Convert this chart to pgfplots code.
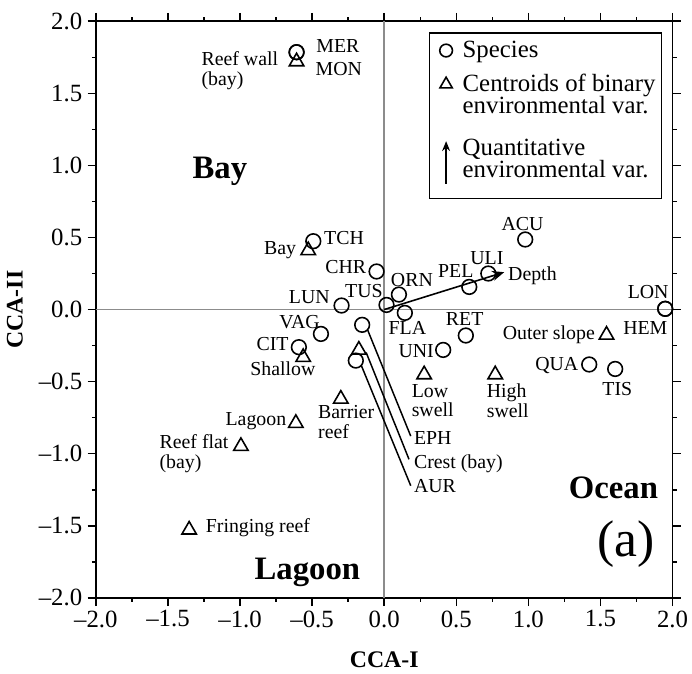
\documentclass[border=0pt]{standalone}
\usepackage{fontspec}
\setmainfont{Liberation Serif}
\usepackage{pgfplots}
\pgfplotsset{compat=1.18}
\usetikzlibrary{arrows.meta}
\definecolor{zerogray}{HTML}{8C8C8C}
\begin{document}
\begin{tikzpicture}[lab/.style={font={\fontsize{10}{10}\selectfont\lineskiplimit=-20pt}, inner sep=0pt, outer sep=0pt, align=left},
  big/.style={font=\fontsize{16.5}{19}\selectfont\bfseries, inner sep=0pt}]
\begin{axis}[
  width=290.8pt, height=290.8pt, scale only axis,
  xmin=-2, xmax=2, ymin=-2, ymax=2,
  xtick={-2,-1.5,-1,-0.5,0,0.5,1,1.5,2},
  ytick={-2,-1.5,-1,-0.5,0,0.5,1,1.5,2},
  xticklabels={--2.0,--1.5,--1.0,--0.5,0.0,0.5,1.0,1.5,2.0},
  yticklabels={--2.0,--1.5,--1.0,--0.5,0.0,0.5,1.0,1.5,2.0},
  minor tick num=1,
  tick align=outside,
  major tick length=4.2pt, minor tick length=2pt,
  tick style={line width=0.75pt, black},
  axis line style={line width=0.8pt},
  every tick label/.append style={font=\fontsize{12.5}{14}\selectfont},
  xticklabel style={inner sep=2pt},
  yticklabel style={inner sep=2.5pt},
  xlabel={CCA-I}, ylabel={CCA-II},
  label style={font=\fontsize{12}{14}\selectfont\bfseries},
  xlabel style={at={(rel axis cs:0.5,0)}, anchor=center, yshift=-31pt},
  ylabel style={at={(rel axis cs:0,0.5)}, anchor=center, yshift=40.9pt},
  clip=false,
  legend cell align=left,
  legend style={at={(axis description cs:0.982,0.981)}, anchor=north east, draw=black, line width=0.75pt,
    font={\fontsize{12.5}{11}\selectfont\lineskiplimit=-20pt}, cells={align=left}, row sep=3pt,
    inner xsep=1pt, inner ysep=2pt},
]
\draw[zerogray, line width=0.8pt] (axis cs:0,-2) -- (axis cs:0,2);
\draw[zerogray, line width=0.8pt] (axis cs:-2,0) -- (axis cs:2,0);

% legend keys
\addlegendimage{legend image code/.code={\path (0pt,0pt) (13pt,0pt); \draw[line width=0.8pt] plot[mark=o, mark size=3.2pt] coordinates {(7pt,0pt)};}}
\addlegendentry{Species}
\addlegendimage{legend image code/.code={\path (0pt,0pt) (13pt,0pt); \draw[line width=0.8pt] plot[mark=triangle, mark size=3.6pt] coordinates {(7pt,5.5pt)};}}
\addlegendentry{Centroids of binary\\environmental var.}
\addlegendimage{legend image code/.code={\draw[draw=none] (7pt,17pt) -- (7pt,-17.5pt); \draw[line width=0.75pt,-{Stealth[length=5pt,width=4pt]}] (7pt,-12pt) -- (7pt,9.5pt);}}
\addlegendentry{Quantitative\\environmental var.}

% species
\addplot[forget plot, only marks, mark=o, mark size=3.7pt, black, mark options={line width=0.8pt}] coordinates {
(-0.608,1.785) (-0.608,1.785) (-0.492,0.474) (-0.053,0.264) (0.102,0.104)
(0.016,0.032) (-0.296,0.028) (0.143,-0.023) (0.722,0.250) (0.590,0.157)
(0.978,0.486) (1.949,0.005) (1.949,0.005) (0.566,-0.180) (0.409,-0.280)
(1.422,-0.381) (1.602,-0.412) (-0.439,-0.169) (-0.592,-0.261) (-0.153,-0.106)
(-0.197,-0.354)};
% centroids
\addplot[forget plot, only marks, mark=triangle, mark size=4.2pt, black, mark options={line width=0.8pt}] coordinates {
(-0.608,1.720) (-0.527,0.410) (1.542,-0.176) (0.277,-0.451) (0.770,-0.451)
(-0.562,-0.331) (-0.176,-0.280) (-0.301,-0.620) (-0.613,-0.788) (-0.994,-0.948)
(-1.353,-1.528)};

% depth vector
\draw[line width=0.8pt, -{Stealth[length=6pt,width=5pt]}] (axis cs:0,0) -- (axis cs:0.832,0.259);

% leader lines
\draw[line width=0.75pt] (axis cs:-0.114,-0.144) -- (axis cs:0.184,-0.878);
\draw[line width=0.75pt] (axis cs:-0.125,-0.298) -- (axis cs:0.172,-1.039);
\draw[line width=0.75pt] (axis cs:-0.160,-0.385) -- (axis cs:0.184,-1.222);

% species labels
\node[lab, anchor=west] at (axis cs:-0.470,1.829) {MER};
\node[lab, anchor=west] at (axis cs:-0.475,1.668) {MON};
\node[lab, anchor=west] at (axis cs:-0.416,0.499) {TCH};
\node[lab, anchor=east] at (axis cs:-0.125,0.292) {CHR};
\node[lab, anchor=west] at (axis cs:0.047,0.207) {ORN};
\node[lab, anchor=east] at (axis cs:-0.011,0.131) {TUS};
\node[lab, anchor=east] at (axis cs:-0.378,0.086) {LUN};
\node[lab, anchor=west] at (axis cs:0.031,-0.128) {FLA};
\node[lab] at (axis cs:0.712,0.354) {ULI};
\node[lab, anchor=east] at (axis cs:0.619,0.269) {PEL};
\node[lab] at (axis cs:0.959,0.590) {ACU};
\node[lab, anchor=east] at (axis cs:1.972,0.124) {LON};
\node[lab, anchor=west] at (axis cs:1.658,-0.128) {HEM};
\node[lab] at (axis cs:0.558,-0.068) {RET};
\node[lab, anchor=east] at (axis cs:0.344,-0.289) {UNI};
\node[lab, anchor=east] at (axis cs:1.346,-0.385) {QUA};
\node[lab] at (axis cs:1.617,-0.550) {TIS};
\node[lab, anchor=east] at (axis cs:-0.447,-0.086) {VAG};
\node[lab, anchor=east] at (axis cs:-0.664,-0.236) {CIT};
\node[lab, anchor=west] at (axis cs:0.207,-0.889) {EPH};
\node[lab, anchor=west] at (axis cs:0.207,-1.222) {AUR};
% centroid labels
\node[lab, anchor=west] at (axis cs:-1.267,1.657) {Reef wall\\(bay)};
\node[lab, anchor=east] at (axis cs:-0.612,0.413) {Bay};
\node[lab, anchor=west] at (axis cs:0.860,0.234) {Depth};
\node[lab, anchor=east] at (axis cs:1.461,-0.174) {Outer slope};
\node[lab, anchor=west] at (axis cs:0.191,-0.631) {Low\\swell};
\node[lab, anchor=west] at (axis cs:0.712,-0.631) {High\\swell};
\node[lab] at (axis cs:-0.703,-0.412) {Shallow};
\node[lab, anchor=west] at (axis cs:0.207,-1.068) {Crest (bay)};
\node[lab, anchor=west] at (axis cs:-0.458,-0.779) {Barrier\\reef};
\node[lab, anchor=east] at (axis cs:-0.680,-0.775) {Lagoon};
\node[lab, anchor=west] at (axis cs:-1.558,-1.002) {Reef flat\\(bay)};
\node[lab, anchor=west] at (axis cs:-1.237,-1.514) {Fringing reef};
% region labels
\node[big] at (axis cs:-1.14,0.96) {Bay};
\node[big] at (axis cs:1.59,-1.235) {Ocean};
\node[big] at (axis cs:-0.533,-1.825) {Lagoon};
\node[font=\fontsize{26}{30}\selectfont, inner sep=0pt] at (axis cs:1.68,-1.63) {(a)};
\end{axis}
\path (current axis.south west) ++(-48.35pt,-36pt) rectangle ++(346pt,337.5pt);
\end{tikzpicture}
\end{document}
